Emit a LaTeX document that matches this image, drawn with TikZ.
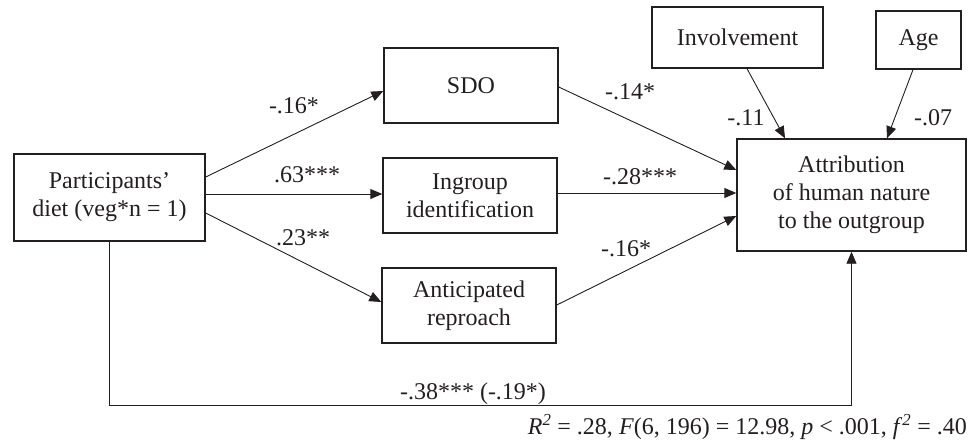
\documentclass[tikz,border=0pt]{standalone}
\usepackage{fontspec}
\setmainfont{Liberation Serif}
\usetikzlibrary{arrows.meta,calc}
\definecolor{ink}{HTML}{231F20}
\begin{document}
\begin{tikzpicture}[x=1pt,y=-1pt,
  box/.style={draw=ink, line width=1.4pt, align=center, inner sep=0pt,
    font=\fontsize{24}{28}\selectfont, text=ink},
  conn/.style={draw=ink, line width=0.9pt, -{Triangle[length=12pt,width=10pt]}},
  lbl/.style={font=\fontsize{24}{28}\selectfont, text=ink, inner sep=0pt}]
\useasboundingbox (0,0) rectangle (975,445);
% boxes
\node[box, minimum width=191pt, minimum height=87pt] (part) at (109.5,197.5) {Participants’\\diet (veg*n = 1)};
\node[box, minimum width=174pt, minimum height=75pt] (sdo) at (471,85.5) {SDO};
\node[box, minimum width=174pt, minimum height=75pt] (ing) at (470,195.5) {Ingroup\\identification};
\node[box, minimum width=174pt, minimum height=75pt] (ant) at (469,305.5) {Anticipated\\reproach};
\node[box, minimum width=229pt, minimum height=112pt] (att) at (851.5,195) {Attribution\\of human nature\\to the outgroup};
\node[box, minimum width=171pt, minimum height=61pt] (inv) at (737.5,37.5) {Involvement};
\node[box, minimum width=85pt, minimum height=58pt] (age) at (918.5,40) {Age};
% connectors
\draw[conn] ($(part.east)+(0,-20.5)$) -- ($(sdo.west)+(0,5.5)$);
\draw[conn] ($(part.east)+(0,-3.5)$) -- ($(ing.west)+(0,-1.5)$);
\draw[conn] ($(part.east)+(0,15.5)$) -- ($(ant.west)+(0,-3.5)$);
\draw[conn] ($(sdo.east)+(0,1.5)$) -- ($(att.west)+(0,-25)$);
\draw[conn] ($(ing.east)+(0,-2.5)$) -- ($(att.west)+(0,-2)$);
\draw[conn] ($(ant.east)+(0,-0.5)$) -- ($(att.west)+(0,21)$);
\draw[conn] ($(inv.south)+(9.5,0)$) -- ($(att.north)+(-66.5,0)$);
\draw[conn] ($(age.south)+(-5.5,0)$) -- ($(att.north)+(35.5,0)$);
\coordinate (bl) at (109.5,405);
\coordinate (br) at (851.5,405);
\draw[conn] (part.south) -- (bl) -- (br) -- (att.south);
% labels
\node[lbl] (l1) at (294,106) {-.16*};
\node[lbl] (l2) at (307,175) {.63***};
\node[lbl] (l3) at (303,238) {.23**};
\node[lbl] (l4) at (630,92) {-.14*};
\node[lbl] (l5) at (640,177) {-.28***};
\node[lbl] (l6) at (626,249) {-.16*};
\node[lbl] (l7) at (746,118) {-.11};
\node[lbl] (l8) at (933,118) {-.07};
\node[lbl] (l9) at (473,394) {-.38*** (-.19*)};
\node[lbl, anchor=east] (l10) at (967,427) {\textit{R}\textsuperscript{\textit{2}} = .28, \textit{F}(6, 196) = 12.98, \textit{p} < .001, \textit{f}\textsuperscript{\textit{2}} = .40};
\end{tikzpicture}
\end{document}
